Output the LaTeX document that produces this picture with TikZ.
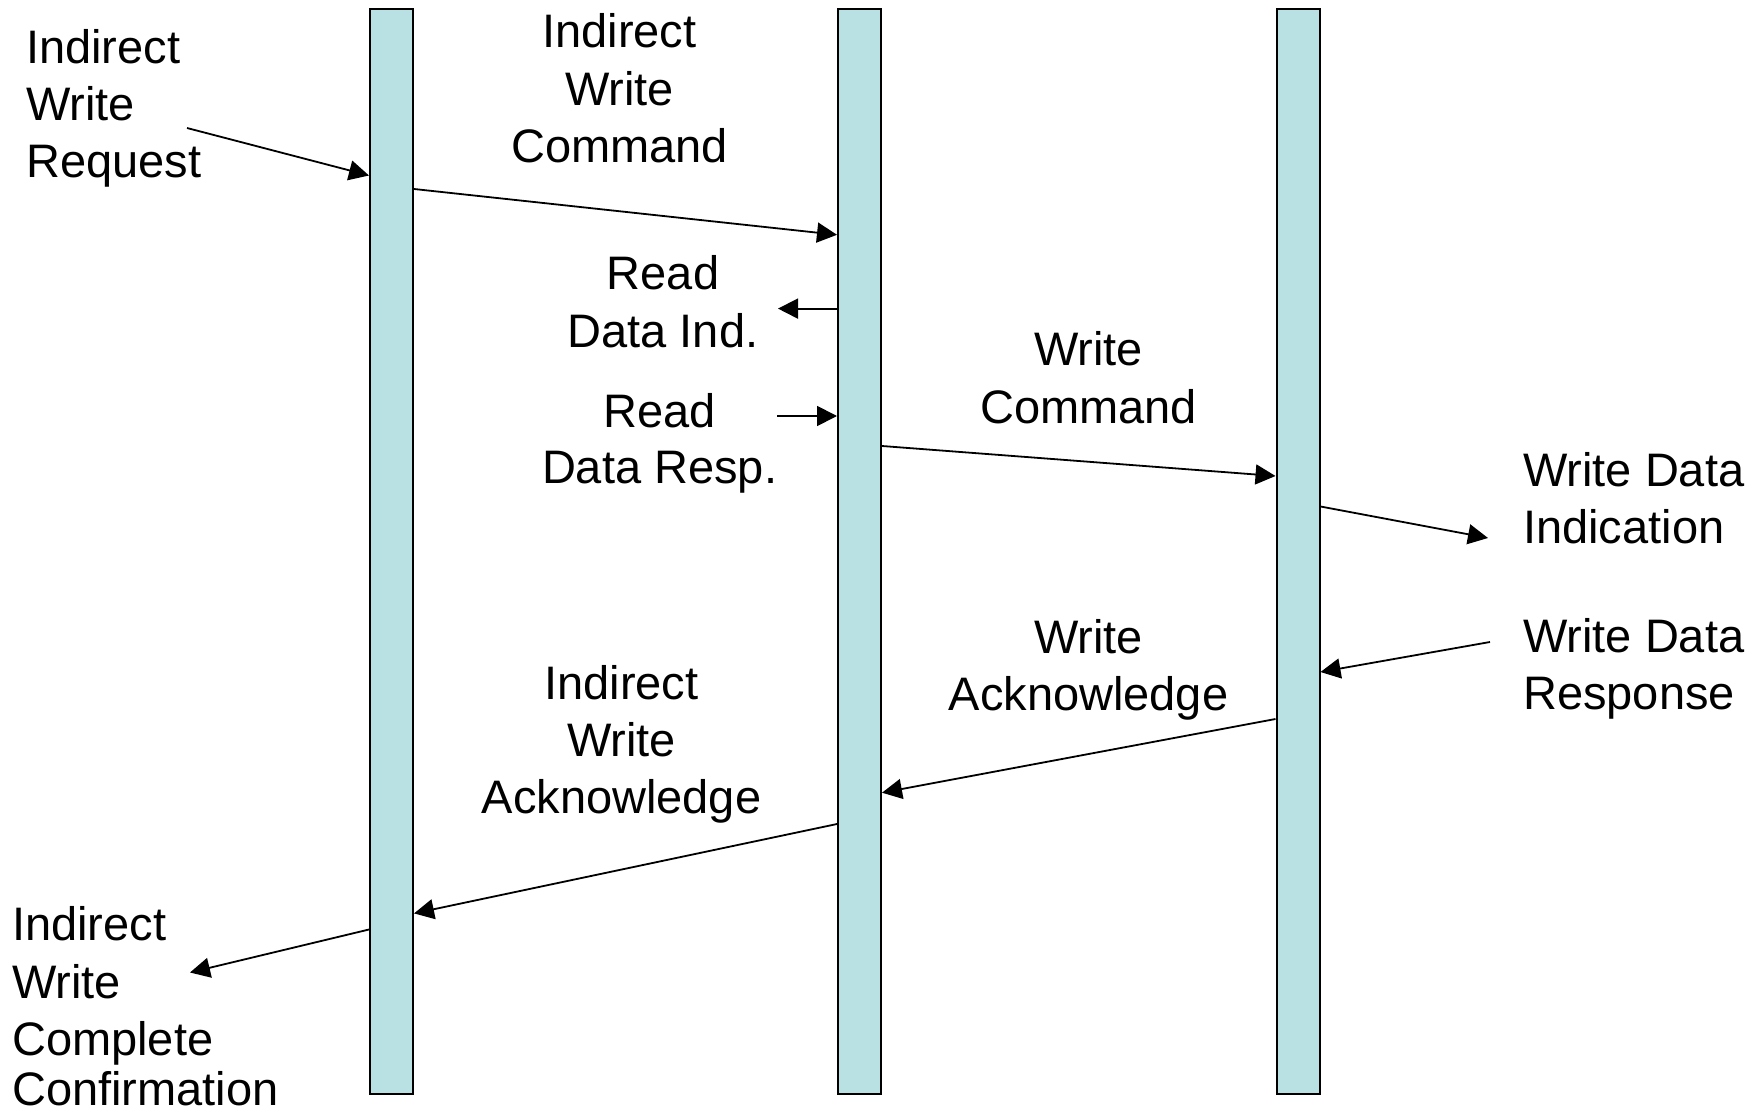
\documentclass[tikz,border=0pt]{standalone}
\usepackage{fontspec}
\setmainfont{Liberation Sans}
\usetikzlibrary{arrows.meta}
\definecolor{barfill}{RGB}{185,224,226}
\begin{document}
\begin{tikzpicture}[x=1pt,y=-1pt,
  bar/.style={draw=black,line width=2pt,fill=barfill,rectangle,inner sep=0pt,minimum width=43pt,minimum height=1085pt},
  msg/.style={line width=1.8pt,-{Triangle[length=20pt,width=20pt]}},
  lbl/.style={inner sep=0pt,font=\fontsize{47}{57}\selectfont,anchor=base},
  lblw/.style={lbl,anchor=base west}]
\useasboundingbox (0,0) rectangle (1753,1115);
% bars
\node[bar] (bar1) at (391.5,551.5) {};
\node[bar] (bar2) at (859.5,551.5) {};
\node[bar] (bar3) at (1298,551.5) {};
% free ends
\coordinate (reqsrc) at (187,128);
\coordinate (indtip) at (778,308.6);
\coordinate (respsrc) at (777,416);
\coordinate (wdisink) at (1488,538);
\coordinate (wdrsrc) at (1490,642);
\coordinate (confsink) at (190,972.5);
% messages
\draw[msg] (reqsrc) -- (bar1.west |- 0,175.5);
\draw[msg] (bar1.east |- 0,189) -- (bar2.west |- 0,234.8);
\draw[msg] (bar2.west |- 0,308.6) -- (indtip);
\draw[msg] (respsrc) -- (bar2.west |- 0,416);
\draw[msg] (bar2.east |- 0,446) -- (bar3.west |- 0,476);
\draw[msg] (bar3.east |- 0,506.5) -- (wdisink);
\draw[msg] (wdrsrc) -- (bar3.east |- 0,672);
\draw[msg] (bar3.west |- 0,719) -- (bar2.east |- 0,792.7);
\draw[msg] (bar2.west |- 0,824) -- (bar1.east |- 0,913.4);
\draw[msg] (bar1.west |- 0,929.5) -- (confsink);
% labels
\node[lblw] (l1a) at (26,63.5) {Indirect};
\node[lblw] (l1b) at (26,120.5) {Write};
\node[lblw] (l1c) at (26,177.5) {Request};
\node[lbl] (l2a) at (619.5,48) {Indirect};
\node[lbl] (l2b) at (619.5,105.5) {Write};
\node[lbl] (l2c) at (619.5,163) {Command};
\node[lbl] (l3a) at (663,290) {Read};
\node[lbl] (l3b) at (663,347) {Data Ind.};
\node[lbl] (l4a) at (659.6,427) {Read};
\node[lbl] (l4b) at (659.6,483) {Data Resp.};
\node[lbl] (l5a) at (1088.5,365.5) {Write};
\node[lbl] (l5b) at (1088.5,423) {Command};
\node[lblw] (l6a) at (1523,486) {Write Data};
\node[lblw] (l6b) at (1523,543) {Indication};
\node[lblw] (l7a) at (1523,652) {Write Data};
\node[lblw] (l7b) at (1523,709) {Response};
\node[lbl] (l8a) at (1088.5,653.5) {Write};
\node[lbl] (l8b) at (1088.5,710.5) {Acknowledge};
\node[lbl] (l9a) at (621.5,699) {Indirect};
\node[lbl] (l9b) at (621.5,756.5) {Write};
\node[lbl] (l9c) at (621.5,813) {Acknowledge};
\node[lblw] (l10a) at (12,940.5) {Indirect};
\node[lblw] (l10b) at (12,998) {Write};
\node[lblw] (l10c) at (12,1055.5) {Complete};
\node[lblw] (l10d) at (12,1105) {Confirmation};
\end{tikzpicture}
\end{document}
